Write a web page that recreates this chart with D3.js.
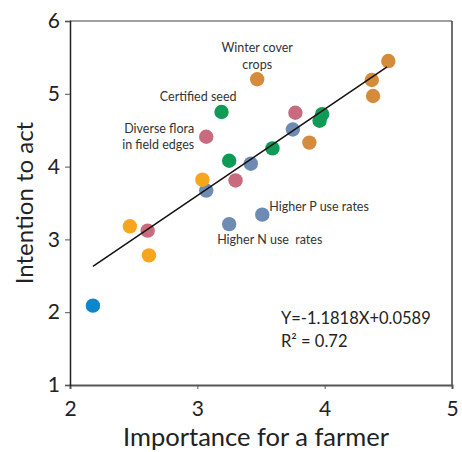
<!DOCTYPE html>
<html><head><meta charset="utf-8">
<script src="https://cdn.jsdelivr.net/npm/d3@7"></script>
<style>body{margin:0;background:#fff;} svg{display:block;font-family:Lato, "Open Sans", sans-serif;} text{white-space:pre;}</style>
</head><body><svg id="c" width="462" height="452"></svg>
<script>
const groups = ["blue","orange","pink","slate","green","amber"];
const groupColors = ["#0c86cc","#f8a51e","#c96b7f","#6d8bb3","#0f9a55","#d48c3c"];
const pointGroup = ["blue","orange","pink","orange","slate","orange","pink","slate","slate","green","slate","pink","green","amber","green","slate","pink","amber","green","green","amber","amber","amber"];
const importance = [2.18,2.47,2.61,2.62,3.07,3.04,3.30,3.25,3.51,3.25,3.42,3.07,3.19,3.47,3.59,3.75,3.77,3.88,3.98,3.96,4.37,4.38,4.50];
const intention  = [2.09,3.18,3.12,2.78,3.67,3.82,3.81,3.21,3.34,4.08,4.04,4.41,4.75,5.20,4.25,4.51,4.74,4.33,4.72,4.63,5.19,4.97,5.45];
const trendX = [2.18, 4.49];
const trendY = [2.63, 5.37];
const xTicks = [2,3,4,5];
const yTicks = [1,2,3,4,5,6];
const labels = [
  {lines:["Winter cover","crops"], x:3.47, y:5.20, anchor:"middle", dx:0, dy:-27},
  {lines:["Certified seed"], x:3.19, y:4.75, anchor:"end", dx:15, dy:-11},
  {lines:["Diverse flora","in field edges"], x:3.07, y:4.41, anchor:"end", dx:-12, dy:-4},
  {lines:["Higher P use rates"], x:3.51, y:3.34, anchor:"start", dx:7, dy:-3.5},
  {lines:["Higher N use  rates"], x:3.25, y:3.21, anchor:"start", dx:-12, dy:20}
];
const eqLines = ["Y=-1.1818X+0.0589", "R² = 0.72"];

const svg = d3.select("#c");
const L=70, R=452, T=21, B=385;
const x = d3.scaleLinear().domain([2,5]).range([L,R]);
const y = d3.scaleLinear().domain([1,6]).range([B,T]);
const color = d3.scaleOrdinal().domain(groups).range(groupColors);

svg.append("line").attr("x1",L).attr("x2",R).attr("y1",T).attr("y2",T).attr("stroke","#7f7f7f").attr("stroke-width",1.5);
svg.append("line").attr("x1",R).attr("x2",R).attr("y1",T).attr("y2",B).attr("stroke","#404040").attr("stroke-width",1.5);

const xAxis = svg.append("g").attr("transform",`translate(0,${B})`)
  .call(d3.axisBottom(x).tickValues(xTicks).tickSize(4).tickPadding(12).tickFormat(d3.format("d")));
xAxis.select(".domain").attr("stroke","#555").attr("stroke-width",2);
xAxis.selectAll(".tick line").attr("stroke","#555");
xAxis.selectAll("text").attr("font-size",21).attr("fill","#222").attr("font-family","Lato, sans-serif");

const yAxis = svg.append("g").attr("transform",`translate(${L},0)`)
  .call(d3.axisLeft(y).tickValues(yTicks).tickSize(5).tickPadding(5).tickFormat(d3.format("d")));
yAxis.select(".domain").attr("stroke","#222").attr("stroke-width",1.5);
yAxis.selectAll(".tick line").attr("stroke","#555");
yAxis.selectAll("text").attr("font-size",21).attr("fill","#222").attr("font-family","Lato, sans-serif");

svg.append("text").attr("x",(L+R)/2-5).attr("y",446).attr("text-anchor","middle")
  .attr("font-size",25.5).attr("fill","#222").text("Importance for a farmer");
svg.append("text").attr("transform",`translate(33,${(T+B)/2}) rotate(-90)`).attr("text-anchor","middle")
  .attr("font-size",24).attr("fill","#222").text("Intention to act");

const pts = importance.map((v,i)=>({x:v,y:intention[i],g:pointGroup[i]}));
svg.append("g").selectAll("circle").data(pts).join("circle")
  .attr("cx",d=>x(d.x)).attr("cy",d=>y(d.y)).attr("r",7.2).attr("fill",d=>color(d.g));

svg.append("line").attr("x1",x(trendX[0])).attr("y1",y(trendY[0])).attr("x2",x(trendX[1])).attr("y2",y(trendY[1]))
  .attr("stroke","#111").attr("stroke-width",1.5);

labels.forEach(l=>{
  const t = svg.append("text").attr("text-anchor",l.anchor).attr("font-size",12.5).attr("fill","#333");
  l.lines.forEach((s,i)=>{
    t.append("tspan").attr("x",x(l.x)+l.dx).attr("y",y(l.y)+l.dy+i*16.5).text(s);
  });
});
const eq = svg.append("text").attr("font-size",16.5).attr("fill","#222");
eqLines.forEach((s,i)=>eq.append("tspan").attr("x",281).attr("y",323.5+i*23).text(s));
</script></body></html>
